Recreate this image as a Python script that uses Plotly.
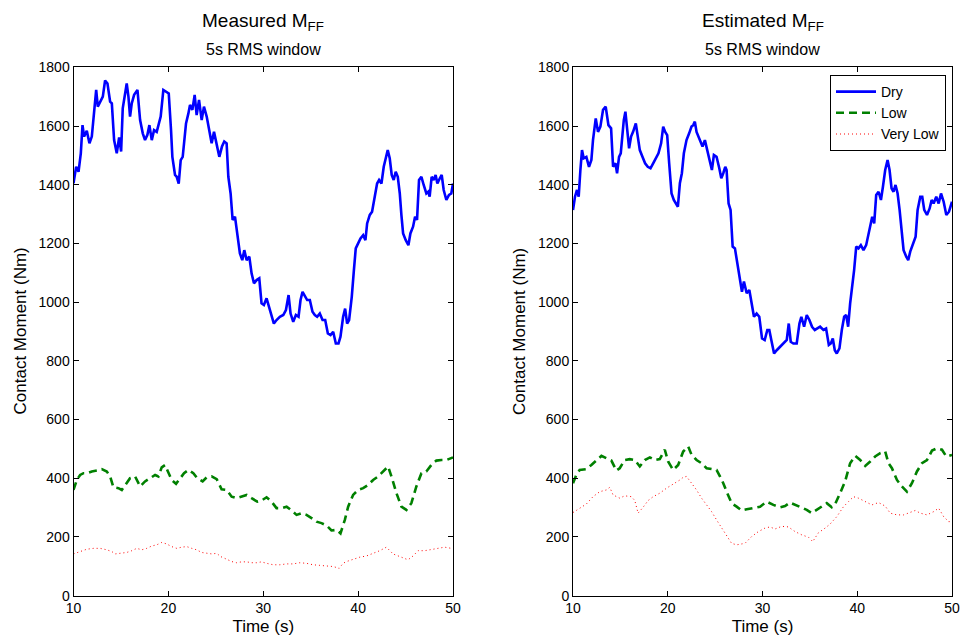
import plotly.graph_objects as go

# ---------------- data ----------------
# Measured M_FF (left panel)
t_meas_dry = [10.00,10.28,10.53,10.77,10.95,11.12,11.40,11.68,11.93,12.11,
              12.39,12.56,12.81,13.09,13.33,13.58,13.86,14.04,14.28,14.56,
              14.81,15.02,15.19,15.37,15.61,15.79,15.96,16.14,16.39,16.74,
              17.02,17.30,17.54,17.79,18.00,18.25,18.49,18.77,18.95,19.19,
              19.47,19.75,20.04,20.28,20.42,20.70,20.88,21.09,21.30,21.51,
              21.68,21.86,22.11,22.28,22.53,22.77,22.98,23.23,23.51,23.75,
              24.04,24.32,24.56,24.81,25.09,25.37,25.65,25.89,26.14,26.32,
              26.56,26.77,27.02,27.26,27.54,27.79,28.00,28.25,28.53,28.77,
              29.02,29.30,29.58,29.82,30.07,30.35,30.63,30.88,31.12,31.40,
              31.75,32.11,32.39,32.67,32.88,33.16,33.44,33.72,33.93,34.14,
              34.39,34.63,34.91,35.19,35.44,35.68,35.96,36.25,36.53,36.81,
              37.09,37.37,37.65,37.93,38.14,38.42,38.63,38.84,39.05,39.33,
              39.54,39.75,40.00,40.25,40.53,40.77,40.95,41.23,41.47,41.75,
              42.00,42.21,42.46,42.70,42.91,43.12,43.33,43.54,43.75,43.96,
              44.18,44.39,44.56,44.74,45.02,45.30,45.51,45.79,46.00,46.21,
              46.42,46.67,46.91,47.19,47.40,47.54,47.75,47.96,48.17,48.35,
              48.60,48.81,49.02,49.30,49.58,49.82,50.00]
meas_dry = [1405,1461,1444,1507,1603,1564,1584,1541,1564,1632,
            1723,1666,1683,1700,1755,1745,1683,1677,1552,1507,
            1561,1513,1660,1700,1745,1700,1632,1677,1706,1723,
            1620,1575,1552,1570,1603,1552,1586,1580,1603,1632,
            1723,1717,1711,1586,1495,1433,1427,1404,1484,1495,
            1558,1609,1643,1672,1655,1706,1637,1689,1620,1666,
            1632,1586,1541,1580,1541,1495,1530,1547,1541,1427,
            1370,1280,1291,1234,1166,1143,1177,1143,1155,1098,
            1064,1075,1081,996,990,1013,984,950,927,939,
            950,956,973,1024,961,933,956,950,1007,1035,
            1018,1007,1007,967,956,950,961,939,939,893,
            888,899,859,859,882,950,978,927,939,1018,
            1103,1183,1200,1217,1228,1211,1268,1297,1308,1359,
            1404,1416,1404,1461,1490,1518,1490,1433,1416,1444,
            1427,1370,1297,1234,1211,1194,1234,1257,1291,1280,
            1416,1427,1399,1370,1376,1359,1427,1416,1433,1404,
            1421,1433,1382,1348,1365,1370,1404]

t_meas_low = [10.00,10.35,10.70,11.05,11.40,11.93,12.46,12.98,13.51,13.86,
              14.21,14.74,15.09,15.61,15.96,16.49,17.02,17.54,18.07,18.60,
              18.95,19.30,19.65,20.00,20.35,20.81,21.23,21.65,22.11,22.63,
              23.05,23.61,24.04,24.56,25.09,25.61,26.14,26.67,27.19,27.72,
              28.25,28.77,29.37,29.82,30.35,30.88,31.40,31.93,32.46,32.98,
              33.51,34.04,34.56,35.09,35.61,36.14,36.67,37.19,37.72,38.14,
              38.60,38.95,39.47,40.00,40.53,41.05,41.58,42.11,42.63,43.16,
              43.51,44.04,44.56,45.09,45.61,46.14,46.67,47.19,47.72,48.25,
              48.77,49.30,50.00]
meas_low = [360,394,411,417,417,423,426,431,423,406,
            369,366,360,383,400,406,372,389,400,411,
            406,437,445,417,394,381,400,417,428,417,
            400,389,403,406,397,362,360,337,332,337,
            343,332,320,324,335,320,298,298,303,290,
            275,281,275,264,252,247,239,222,224,212,
            258,303,343,360,366,377,394,406,423,440,
            406,349,303,292,315,372,417,423,445,460,
            462,462,471]

t_meas_vlow = [10.00,10.70,11.40,12.11,12.81,13.51,14.04,14.39,15.09,15.61,
               16.14,16.67,17.19,17.72,18.25,18.77,19.30,19.82,20.35,20.88,
               21.40,21.93,22.46,22.98,23.51,24.04,24.56,25.09,25.51,26.14,
               26.67,27.19,27.72,28.25,28.77,29.30,29.82,30.35,31.05,31.75,
               32.46,33.16,33.86,34.56,35.26,35.96,36.67,37.37,38.00,38.42,
               38.77,39.47,40.18,40.88,41.58,42.28,42.98,43.68,44.39,45.26,
               45.79,46.32,47.02,47.72,48.42,49.12,50.00]
meas_vlow = [142,150,158,161,161,156,150,142,144,147,
             153,161,156,161,169,173,181,176,167,161,
             165,167,161,156,147,144,142,144,133,124,
             116,112,115,115,112,112,115,110,105,105,
             108,108,112,110,105,103,101,99,93,110,
             116,124,131,135,144,153,165,142,133,122,
             135,153,153,158,161,165,160]

# Estimated M_FF (right panel)
t_est_dry = [10.00,10.21,10.42,10.60,10.78,10.95,11.13,11.41,11.69,11.94,
             12.11,12.40,12.64,12.89,13.17,13.45,13.74,14.02,14.23,14.48,
             14.65,14.86,15.04,15.22,15.36,15.53,15.71,15.92,16.13,16.34,
             16.63,16.84,17.05,17.33,17.61,17.89,18.18,18.46,18.74,19.02,
             19.30,19.52,19.73,19.94,20.15,20.40,20.64,20.85,21.07,21.28,
             21.49,21.70,21.98,22.26,22.51,22.69,22.86,23.04,23.25,23.46,
             23.67,23.92,24.17,24.45,24.66,24.87,25.15,25.44,25.65,25.86,
             26.07,26.21,26.42,26.63,26.85,27.09,27.34,27.62,27.83,28.04,
             28.33,28.61,28.85,29.10,29.38,29.66,29.95,30.23,30.51,30.72,
             30.93,31.22,31.50,31.85,32.20,32.56,32.77,32.98,33.26,33.61,
             33.90,34.10,34.39,34.67,34.95,35.23,35.52,35.80,36.08,36.43,
             36.71,37.00,37.21,37.42,37.63,37.84,38.12,38.37,38.62,38.83,
             39.04,39.25,39.46,39.67,39.89,40.13,40.38,40.66,40.94,41.15,
             41.37,41.58,41.79,42.00,42.25,42.50,42.71,42.95,43.20,43.41,
             43.62,43.83,44.04,44.26,44.47,44.68,44.89,45.17,45.38,45.59,
             45.88,46.16,46.37,46.65,46.86,47.07,47.36,47.64,47.85,48.06,
             48.34,48.59,48.84,49.12,49.40,49.68,50.00]
est_dry = [1314,1359,1382,1359,1450,1518,1490,1495,1461,1484,
           1552,1626,1580,1598,1655,1666,1603,1592,1461,1473,
           1439,1495,1507,1586,1620,1649,1598,1524,1564,1580,
           1609,1564,1518,1495,1473,1461,1456,1473,1490,1507,
           1541,1598,1580,1569,1473,1370,1348,1336,1325,1405,
           1439,1507,1552,1575,1598,1603,1615,1580,1564,1552,
           1530,1552,1518,1484,1450,1501,1495,1456,1422,1439,
           1461,1450,1336,1314,1189,1183,1132,1064,1035,1070,
           1030,1041,996,950,961,950,876,871,905,905,
           871,825,836,848,859,871,927,865,859,859,
           927,950,916,956,939,916,905,910,916,905,
           910,854,859,876,836,825,842,905,950,956,
           916,996,1052,1109,1189,1183,1194,1177,1194,1228,
           1257,1291,1268,1365,1376,1348,1393,1450,1484,1450,
           1388,1376,1399,1370,1314,1234,1177,1155,1143,1172,
           1200,1223,1314,1359,1359,1314,1297,1319,1348,1336,
           1359,1336,1370,1342,1297,1308,1342]

t_est_low = [10.00,10.35,10.70,11.41,11.94,12.47,13.00,13.52,14.05,14.58,
             14.93,15.46,15.99,16.52,17.05,17.58,18.11,18.63,19.16,19.69,
             20.04,20.57,21.10,21.63,22.16,22.51,23.04,23.57,24.10,24.63,
             25.15,25.51,25.86,26.28,26.74,27.27,27.80,28.33,29.03,29.74,
             30.45,31.15,31.85,32.38,32.91,33.44,33.96,34.67,35.20,35.73,
             36.26,36.78,37.31,37.67,38.19,38.72,39.25,39.78,40.31,40.84,
             41.37,41.89,42.42,42.95,43.30,43.66,44.19,44.71,45.24,45.77,
             46.30,46.83,47.36,47.89,48.41,48.94,49.40,50.00]
est_low = [383,411,428,431,445,462,476,468,460,426,
           434,462,465,462,440,462,471,462,465,497,
           457,428,445,491,508,480,462,451,434,431,
           428,406,383,349,315,303,290,294,298,303,
           320,309,301,305,317,309,303,292,281,292,
           305,315,301,312,349,389,451,476,462,442,
           457,474,485,491,451,434,394,372,354,383,
           423,451,462,494,502,497,474,479]

t_est_vlow = [10.00,10.70,11.41,12.11,12.82,13.52,13.88,14.23,14.93,15.46,
              16.17,16.52,16.87,17.40,17.93,18.46,19.16,19.87,20.75,21.28,
              21.63,21.98,22.51,23.04,23.57,24.10,24.63,25.15,25.68,26.21,
              26.74,27.27,28.15,28.85,29.56,30.26,30.79,31.32,32.03,32.73,
              33.44,34.14,34.85,35.30,35.90,36.61,37.14,37.84,38.55,39.07,
              39.60,40.13,40.84,41.54,42.25,42.95,43.48,44.19,44.89,45.59,
              46.12,46.65,47.36,48.06,48.59,49.12,49.65,50.00]
est_vlow = [283,298,312,337,354,360,369,343,332,340,
            337,324,281,301,324,337,349,366,383,394,
            403,406,383,360,332,309,286,258,230,203,
            178,173,178,201,218,230,234,227,236,234,
            218,207,199,184,214,230,244,269,303,320,
            337,332,320,309,317,305,281,275,275,283,
            290,281,275,286,298,269,252,252]

series_names = ["Dry", "Low", "Very Low"]
panel_titles = ["Measured M<sub>FF</sub>", "Estimated M<sub>FF</sub>"]
panel_subtitle = "5s RMS window"
x_label = "Time (s)"
y_label = "Contact Moment (Nm)"

# ---------------- figure ----------------
FONT = "Liberation Sans, Arial, Helvetica, sans-serif"
colors = ["#0000ff", "#008000", "#ff0000"]
line_styles = [dict(width=2.6, dash="solid"),
               dict(width=2.6, dash="8px,5px"),
               dict(width=1, dash="1px,3px")]

fig = go.Figure()
panels = [
    ("x", "y", [(t_meas_dry, meas_dry), (t_meas_low, meas_low), (t_meas_vlow, meas_vlow)], False),
    ("x2", "y2", [(t_est_dry, est_dry), (t_est_low, est_low), (t_est_vlow, est_vlow)], True),
]
for xa, ya, series, show in panels:
    for i, (tt, vv) in enumerate(series):
        fig.add_trace(go.Scatter(
            x=tt, y=vv, mode="lines", name=series_names[i], showlegend=show,
            xaxis=xa, yaxis=ya,
            line=dict(color=colors[i], width=line_styles[i]["width"], dash=line_styles[i]["dash"]),
        ))

xdoms = [[73.5 / 962, 453 / 962], [573 / 962, 952 / 962]]
ydom = [1 - 595.6 / 639, 1 - 67.3 / 639]

axis_common = dict(showline=True, linecolor="black", linewidth=1, mirror="ticks",
                   ticks="inside", ticklen=5, tickcolor="black", showgrid=False,
                   zeroline=False, automargin=False,
                   tickfont=dict(family=FONT, size=14, color="black"))

layout = dict(
    width=962, height=639,
    margin=dict(l=0, r=0, t=0, b=0, autoexpand=False),
    paper_bgcolor="white", plot_bgcolor="white",
    font=dict(family=FONT, color="black"),
    showlegend=True,
    legend=dict(x=946 / 962, y=1 - 75 / 639, xanchor="right", yanchor="top",
                bordercolor="black", borderwidth=1, bgcolor="white",
                font=dict(family=FONT, size=14, color="black"),
                tracegroupgap=0, itemwidth=40),
)
for k, dom in enumerate(xdoms):
    suffix = "" if k == 0 else str(k + 1)
    layout["xaxis" + suffix] = dict(axis_common, domain=dom, range=[10, 50], dtick=10,
                                    tick0=10, anchor="y" + suffix,
                                    title=dict(text=x_label, font=dict(family=FONT, size=17), standoff=4))
    layout["yaxis" + suffix] = dict(axis_common, domain=ydom, range=[0, 1800], dtick=200,
                                    anchor="x" + suffix)
fig.update_layout(**layout)

annos = []
ycenter = (ydom[0] + ydom[1]) / 2
for k, dom in enumerate(xdoms):
    cx = (dom[0] + dom[1]) / 2
    annos.append(dict(text=panel_titles[k], x=cx, y=1 - 22 / 639, xref="paper", yref="paper",
                      xanchor="center", yanchor="middle", showarrow=False,
                      font=dict(family=FONT, size=19, color="black")))
    annos.append(dict(text=panel_subtitle, x=cx, y=1 - 49.5 / 639, xref="paper", yref="paper",
                      xanchor="center", yanchor="middle", showarrow=False,
                      font=dict(family=FONT, size=16, color="black")))
    annos.append(dict(text=y_label, x=dom[0] - 53.5 / 962, y=ycenter, xref="paper", yref="paper",
                      xanchor="center", yanchor="middle", textangle=-90, showarrow=False,
                      font=dict(family=FONT, size=17, color="black")))
fig.update_layout(annotations=annos)

fig.write_html("out.html")
